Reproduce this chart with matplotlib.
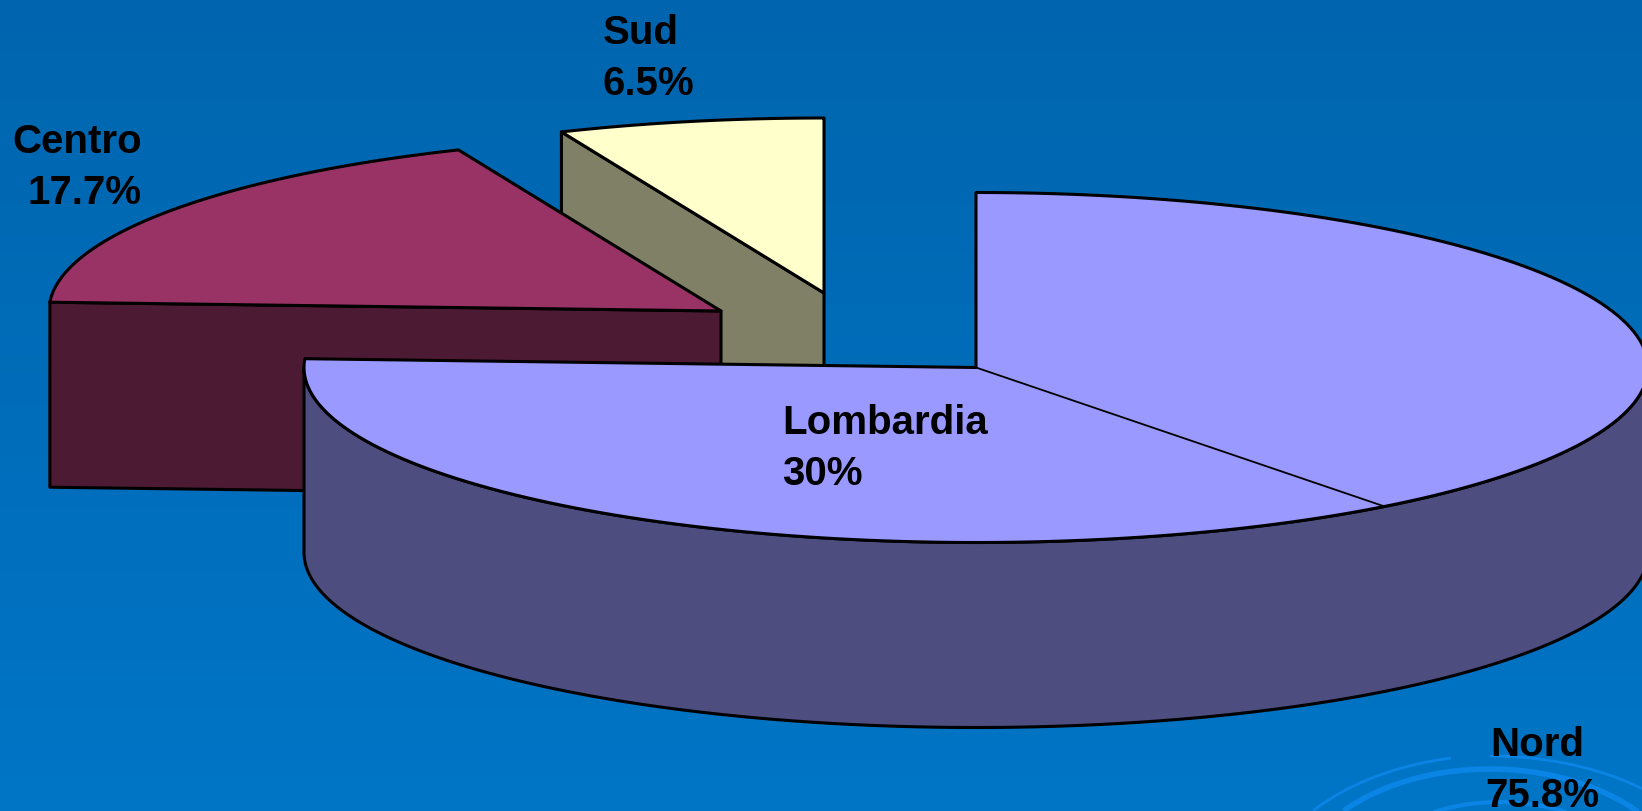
import numpy as np
import matplotlib
matplotlib.use('Agg')
import matplotlib.pyplot as plt
from matplotlib.patches import Polygon

plt.rcParams['font.family'] = ['Liberation Sans', 'DejaVu Sans']

# shares of the pie, clockwise from 12 o'clock
regions = ['Nord', 'Centro', 'Sud']
shares = [75.8, 17.7, 6.5]
region_labels = ['75.8%', '17.7%', '6.5%']

# Lombardia sits inside Nord. The divider is drawn at this share of the whole pie
lombardia_name = 'Lombardia'
lombardia_label = '30%'
lombardia_drawn_share = 36.2

# layout in pixels
WIDTH, HEIGHT = 1642, 811
RX, RY, DEPTH = 672, 175, 185
CENTERS = {'Nord': (976, 367.5), 'Centro': (721, 311), 'Sud': (824, 293)}
CUT_NUDGE = 0.4  # the Centro/Sud cut sits slightly off its exact angle

TOP_COLORS = {'Nord': '#9999ff', 'Centro': '#993366', 'Sud': '#ffffcc'}
SIDE_COLORS = {'Nord': '#4d4d7f', 'Centro': '#4d1a33', 'Sud': '#808066'}


def ellipse_points(center, rx, ry, start, end, n=200):
    theta = np.radians(np.linspace(start, end, n))
    x = center[0] + rx * np.sin(theta)
    y = center[1] - ry * np.cos(theta)
    return np.column_stack([x, y])


def add_poly(ax, points, color, lw=2.2):
    ax.add_patch(Polygon(points, closed=True, facecolor=color, edgecolor='black',
                         linewidth=lw, joinstyle='round'))


def draw_top(ax, name, start, end):
    center = CENTERS[name]
    arc = ellipse_points(center, RX, RY, start, end)
    add_poly(ax, np.vstack([[center], arc]), TOP_COLORS[name])


def draw_cut_side(ax, name, angle):
    # flat face left by pulling the slice out of the pie
    center = CENTERS[name]
    edge = ellipse_points(center, RX, RY, angle, angle, n=1)[0]
    points = [edge, center, (center[0], center[1] + DEPTH), (edge[0], edge[1] + DEPTH)]
    add_poly(ax, points, SIDE_COLORS[name])


def draw_rim(ax, name, start, end):
    arc = ellipse_points(CENTERS[name], RX, RY, start, end)
    lower = arc[::-1] + [0, DEPTH]
    add_poly(ax, np.vstack([arc, lower]), SIDE_COLORS[name])


def draw_swirl(ax, cx, cy, rx, ry, start, end, lw):
    pts = ellipse_points((cx, cy), rx, ry, start, end)
    ax.plot(pts[:, 0], pts[:, 1], color='#0a85e6', linewidth=lw, solid_capstyle='butt')


def two_lines(ax, x, y, first, second, ha='left', x2=None):
    if x2 is None:
        x2 = x
    ax.text(x, y, first, ha=ha, va='baseline', fontsize=29, fontweight='bold', color='black')
    ax.text(x2, y + 51, second, ha=ha, va='baseline', fontsize=29, fontweight='bold', color='black')


fig = plt.figure(figsize=(WIDTH / 100, HEIGHT / 100), dpi=100)
ax = fig.add_axes([0, 0, 1, 1])
ax.set_xlim(0, WIDTH)
ax.set_ylim(HEIGHT, 0)
ax.axis('off')

# blue background, a little lighter towards the bottom
gradient = np.zeros((HEIGHT, 1, 3))
gradient[:, 0, 1] = np.linspace(101, 117, HEIGHT) / 255
gradient[:, 0, 2] = np.linspace(174, 198, HEIGHT) / 255
ax.imshow(gradient, extent=[0, WIDTH, HEIGHT, 0], aspect='auto', zorder=0)

draw_swirl(ax, 1500, 900, 237, 145, -52, -12, 2.0)
draw_swirl(ax, 1490, 900, 240, 144, 0, 50, 2.0)
draw_swirl(ax, 1490, 900, 200, 131, -47, 60, 4.0)
draw_swirl(ax, 1500, 900, 150, 98, -30, 45, 3.0)

# angles of the slice edges
edges = np.cumsum([0] + shares) / 100 * 360
nord_end, centro_end = edges[1], edges[2] + CUT_NUDGE

# back to front so the nearer slices cover the others
draw_cut_side(ax, 'Sud', centro_end)
draw_top(ax, 'Sud', centro_end, 360)
draw_cut_side(ax, 'Centro', nord_end)
draw_top(ax, 'Centro', nord_end, centro_end)
draw_rim(ax, 'Nord', 90, 270)
draw_top(ax, 'Nord', 0, nord_end)

# Lombardia divider
divider = nord_end - lombardia_drawn_share / 100 * 360
divider_end = ellipse_points(CENTERS['Nord'], RX, RY, divider, divider, n=1)[0]
ax.plot([CENTERS['Nord'][0], divider_end[0]], [CENTERS['Nord'][1], divider_end[1]],
        color='black', linewidth=1.3)

two_lines(ax, 603, 44, regions[2], region_labels[2])
two_lines(ax, 142, 153, regions[1], region_labels[1], ha='right')
two_lines(ax, 1537, 756, regions[0], region_labels[0], ha='center', x2=1542)
two_lines(ax, 782, 434, lombardia_name, lombardia_label)

fig.savefig('out.png', dpi=100)
